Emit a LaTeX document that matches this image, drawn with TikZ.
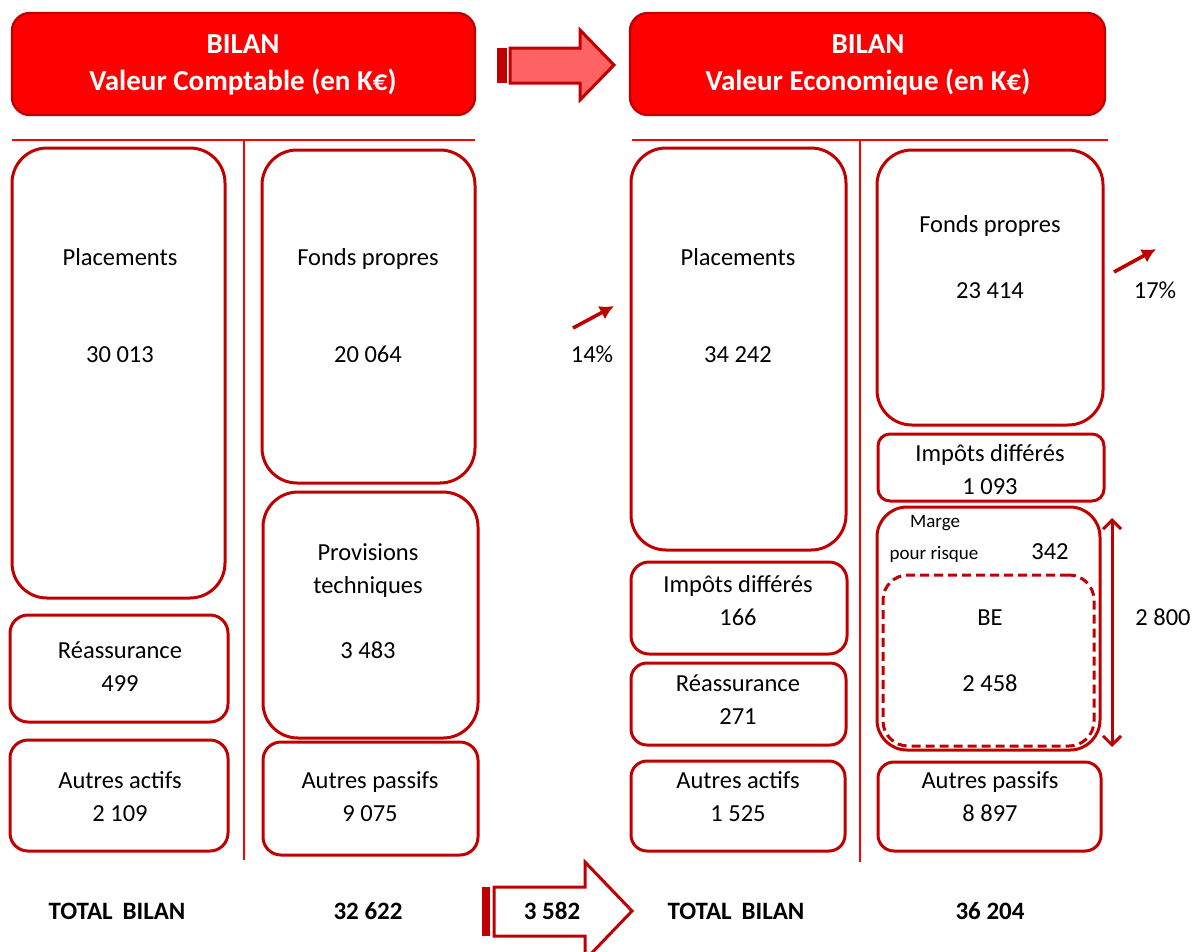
\documentclass[tikz,border=0pt]{standalone}
\usepackage{fontspec}
\setmainfont{Carlito}
\usetikzlibrary{arrows.meta,fit}
\definecolor{darkred}{HTML}{C00000}
\definecolor{brightred}{HTML}{FF0000}
\definecolor{lightred}{HTML}{FF6262}
\begin{document}
\begin{tikzpicture}[x=1pt,y=-1pt,
  box/.style={draw=darkred, line width=3pt, rounded corners=#1, inner sep=0pt},
  box/.default=18pt,
  dashbox/.style={box=#1, dash pattern=on 9pt off 5pt},
  header/.style={fill=brightred, draw=darkred, line width=2.4pt, rounded corners=18pt, inner sep=0pt},
  txt/.style={font=\fontsize{24.5}{29}\selectfont, inner sep=0pt, anchor=base},
  small/.style={font=\fontsize{19}{23}\selectfont, inner sep=0pt, anchor=base},
  bold/.style={font=\fontsize{25}{30}\selectfont\bfseries, inner sep=0pt, anchor=base},
  head/.style={font=\fontsize{29}{34}\selectfont\bfseries, text=white, inner sep=0pt, anchor=base},
  sep/.style={draw=brightred, line width=2pt},
  growth/.style={draw=darkred, line width=3.6pt, -{Latex[length=14pt,width=15pt]}},
  span/.style={draw=darkred, line width=3pt, {Straight Barb[length=9pt,width=18pt]}-{Straight Barb[length=9pt,width=18pt]}},
  blockarrow/.style={draw=darkred, line width=3pt, line join=miter}
]
\useasboundingbox (0,0) rectangle (1193,951);
\clip (0,0) rectangle (1193,951);

% ---- headers ----
\node[header, fit={(12,13) (475,115)}] (hL) {};
\node[head] (hL1) at (243,53) {BILAN};
\node[head] (hL2) at (243,90) {Valeur Comptable (en K€)};
\node[header, fit={(630,13) (1105,115)}] (hR) {};
\node[head] (hR1) at (868,53) {BILAN};
\node[head] (hR2) at (868,90) {Valeur Economique (en K€)};

% striped block arrow between the headers
\fill[darkred] (497,48) rectangle (507,83);
\draw[blockarrow, fill=lightred] (510,48) -- (580,48) -- (580,30) -- (614,65) -- (580,100) -- (580,83) -- (510,83) -- cycle;

% ---- separators ----
\draw[sep] (12,140) -- (475,140);
\draw[sep] (244,140) -- (244,860);
\draw[sep] (632,140) -- (1108,140);
\draw[sep] (860,140) -- (860,862);

% ---- book value: assets ----
\node[box=35pt, fit={(12,148) (225,598)}] (lPlac) {};
\node[txt] (lPlacT) at (120,265) {Placements};
\node[txt] (lPlacV) at (120,362) {30 013};
\node[box, fit={(10,615) (228,722)}] (lReas) {};
\node[txt] (lReasT) at (120,658) {Réassurance};
\node[txt] (lReasV) at (120,691) {499};
\node[box, fit={(10,740) (228,851)}] (lAutA) {};
\node[txt] (lAutAT) at (120,788) {Autres actifs};
\node[txt] (lAutAV) at (120,821) {2 109};

% ---- book value: liabilities ----
\node[box=35pt, fit={(262,150) (475,483)}] (lFP) {};
\node[txt] (lFPT) at (368,265) {Fonds propres};
\node[txt] (lFPV) at (368,362) {20 064};
\node[box=35pt, fit={(263,492) (478,738)}] (lProv) {};
\node[txt] (lProvT1) at (368,560) {Provisions};
\node[txt] (lProvT2) at (368,593) {techniques};
\node[txt] (lProvV) at (368,658) {3 483};
\node[box, fit={(263,742) (478,855)}] (lAutP) {};
\node[txt] (lAutPT) at (370,788) {Autres passifs};
\node[txt] (lAutPV) at (370,821) {9 075};

% ---- economic value: assets ----
\node[box=35pt, fit={(631,148) (846,550)}] (rPlac) {};
\node[txt] (rPlacT) at (738,265) {Placements};
\node[txt] (rPlacV) at (738,362) {34 242};
\node[box, fit={(631,562) (847,654)}] (rImpA) {};
\node[txt] (rImpAT) at (738,592) {Impôts différés};
\node[txt] (rImpAV) at (738,625) {166};
\node[box=16pt, fit={(631,663) (846,745)}] (rReas) {};
\node[txt] (rReasT) at (738,691) {Réassurance};
\node[txt] (rReasV) at (738,724) {271};
\node[box=16pt, fit={(631,761) (845,851)}] (rAutA) {};
\node[txt] (rAutAT) at (738,788) {Autres actifs};
\node[txt] (rAutAV) at (738,821) {1 525};

% ---- economic value: liabilities ----
\node[box=35pt, fit={(877,150) (1103,425)}] (rFP) {};
\node[txt] (rFPT) at (990,232) {Fonds propres};
\node[txt] (rFPV) at (990,298) {23 414};
\node[box=12pt, fit={(878,434) (1104,501)}] (rImpP) {};
\node[txt] (rImpPT) at (990,461) {Impôts différés};
\node[txt] (rImpPV) at (990,494) {1 093};
\node[box=30pt, fit={(877,507) (1100,750)}] (rMarge) {};
\node[small] (rMargeT1) at (935,527) {Marge};
\node[small] (rMargeT2) at (934,559) {pour risque};
\node[txt] (rMargeV) at (1050,559) {342};
\node[dashbox=25pt, fit={(883,575) (1094,746)}] (rBE) {};
\node[txt] (rBET) at (990,625) {BE};
\node[txt] (rBEV) at (990,691) {2 458};
\node[box=16pt, fit={(878,762) (1101,851)}] (rAutP) {};
\node[txt] (rAutPT) at (990,788) {Autres passifs};
\node[txt] (rAutPV) at (990,821) {8 897};

% technical provisions span
\coordinate (spanTop) at (1112,518);
\coordinate (spanBot) at (1112,747);
\draw[span] (spanTop) -- (spanBot);
\node[txt] (spanV) at (1163,625) {2 800};

% growth indicators
\coordinate (g1a) at (573,328);
\coordinate (g1b) at (614,306);
\draw[growth] (g1a) -- (g1b);
\node[txt] (g1T) at (592,362) {14\%};
\coordinate (g2a) at (1114,272);
\coordinate (g2b) at (1156,249);
\draw[growth] (g2a) -- (g2b);
\node[txt] (g2T) at (1155,298) {17\%};

% ---- totals ----
\node[bold] (tL) at (117,919) {TOTAL\, BILAN};
\node[bold] (tLV) at (368,919) {32 622};
\fill[darkred] (482,887) rectangle (490,936);
\draw[blockarrow, fill=white] (494,887) -- (585,887) -- (585,862) -- (632,911) -- (585,960) -- (585,936) -- (494,936) -- cycle;
\node[bold] (tD) at (552,919) {3 582};
\node[bold] (tR) at (736,919) {TOTAL\, BILAN};
\node[bold] (tRV) at (990,919) {36 204};
\end{tikzpicture}
\end{document}
